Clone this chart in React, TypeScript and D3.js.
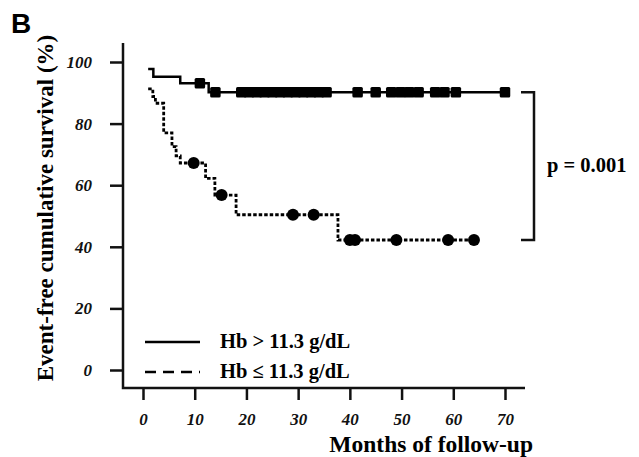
import React, { useEffect, useRef } from 'react';
import * as d3 from 'd3';

// Hb > 11.3 g/dL : step curve (months, survival %) and censored times
const highTime = [1, 2, 7.2, 12.7, 70];
const highSurv = [97.7, 95.2, 93.1, 90.2, 90.2];
const highCensor = [11, 14, 19, 20.5, 22, 23.5, 25, 26.5, 28, 29.5, 31, 32.5, 34, 35.5,
  41.5, 45, 48, 49.8, 51.5, 53.3, 56.5, 58.3, 60.5, 70];

// Hb <= 11.3 g/dL
const lowTime = [1, 1.9, 2.4, 4.0, 5.6, 6.4, 7.2, 12.1, 13.9, 18.0, 37.7, 64];
const lowSurv = [91.3, 88.8, 86.6, 77.0, 72.5, 69.5, 67.2, 62.2, 56.8, 50.4, 42.2, 42.2];
const lowCensor = [9.8, 15.2, 29, 33, 40, 41, 49, 59, 64];

const xTicks = [0, 10, 20, 30, 40, 50, 60, 70];
const yTicks = [0, 20, 40, 60, 80, 100];

const serif = '"Liberation Serif", "Times New Roman", serif';

function survAt(times: number[], surv: number[], t: number) {
  const i = d3.bisectRight(times, t) - 1;
  return surv[Math.max(0, i)];
}

export default function App() {
  const svgRef = useRef<SVGSVGElement>(null);

  useEffect(() => {
    const w = 639;
    const h = 457;
    const x = d3.scaleLinear().domain([0, 70]).range([143, 505]);
    const y = d3.scaleLinear().domain([0, 100]).range([370, 62]);

    const svg = d3.select(svgRef.current).attr('width', w).attr('height', h);
    svg.selectAll('*').remove();

    svg.append('rect').attr('width', w).attr('height', h).attr('fill', '#fff');

    // panel letter
    svg.append('text')
      .attr('x', 11).attr('y', 33)
      .text('B')
      .style('font-family', '"Liberation Sans", Arial, sans-serif')
      .style('font-weight', 'bold')
      .style('font-size', '28px');

    // y axis
    const yAxis = svg.append('g')
      .attr('transform', 'translate(123,0)')
      .call(d3.axisLeft(y).tickValues(yTicks).tickSize(13).tickPadding(18));
    yAxis.select('.domain').remove();
    yAxis.selectAll('line').attr('stroke', '#111').attr('stroke-width', 2.5);
    yAxis.selectAll('text')
      .style('font-family', serif)
      .style('font-style', 'italic')
      .style('font-weight', 'bold')
      .style('font-size', '17px')
      .attr('fill', '#111');

    // x axis
    const xAxis = svg.append('g')
      .attr('transform', 'translate(0,388)')
      .call(d3.axisBottom(x).tickValues(xTicks).tickSize(12).tickPadding(13));
    xAxis.select('.domain').remove();
    xAxis.selectAll('line').attr('stroke', '#111').attr('stroke-width', 2.5);
    xAxis.selectAll('text')
      .style('font-family', serif)
      .style('font-style', 'italic')
      .style('font-weight', 'bold')
      .style('font-size', '17px')
      .attr('fill', '#111');

    // axis lines
    svg.append('path')
      .attr('d', 'M123,43V388H525')
      .attr('fill', 'none')
      .attr('stroke', '#111')
      .attr('stroke-width', 2.5);

    // axis titles
    svg.append('text')
      .attr('transform', 'translate(53,208) rotate(-90)')
      .attr('text-anchor', 'middle')
      .text('Event-free cumulative survival (%)')
      .style('font-family', serif)
      .style('font-weight', 'bold')
      .style('font-size', '23px');

    svg.append('text')
      .attr('x', 533).attr('y', 452)
      .attr('text-anchor', 'end')
      .text('Months of follow-up')
      .style('font-family', serif)
      .style('font-weight', 'bold')
      .style('font-size', '23.5px');

    const line = d3.line<[number, number]>()
      .x(d => x(d[0]))
      .y(d => y(d[1]))
      .curve(d3.curveStepAfter);

    const highPts = highTime.map((t, i) => [t, highSurv[i]] as [number, number]);
    const lowPts = lowTime.map((t, i) => [t, lowSurv[i]] as [number, number]);

    svg.append('path')
      .attr('d', line(highPts))
      .attr('fill', 'none')
      .attr('stroke', '#000')
      .attr('stroke-width', 2.5);

    svg.append('path')
      .attr('d', line(lowPts))
      .attr('fill', 'none')
      .attr('stroke', '#000')
      .attr('stroke-width', 2.8)
      .attr('stroke-dasharray', '3.5 2');

    const sq = 10.5;
    svg.selectAll(null)
      .data(highCensor)
      .enter()
      .append('rect')
      .attr('x', d => x(d) - sq / 2)
      .attr('y', d => y(survAt(highTime, highSurv, d)) - sq / 2)
      .attr('width', sq)
      .attr('height', sq)
      .attr('rx', 1.5)
      .attr('fill', '#000');

    svg.selectAll(null)
      .data(lowCensor)
      .enter()
      .append('circle')
      .attr('cx', d => x(d))
      .attr('cy', d => y(survAt(lowTime, lowSurv, d)))
      .attr('r', 6)
      .attr('fill', '#000');

    // p-value bracket
    const yTop = y(survAt(highTime, highSurv, 70));
    const yBot = y(survAt(lowTime, lowSurv, 64));
    svg.append('path')
      .attr('d', `M521,${yTop}H534V${yBot}H521`)
      .attr('fill', 'none')
      .attr('stroke', '#111')
      .attr('stroke-width', 2.5);
    svg.append('text')
      .attr('x', 547).attr('y', 172)
      .text('p = 0.001')
      .style('font-family', serif)
      .style('font-weight', 'bold')
      .style('font-size', '20.5px');

    // legend
    const legend = svg.append('g');
    const items = [
      { label: 'Hb > 11.3 g/dL', dash: null, y: 342 },
      { label: 'Hb \u2264 11.3 g/dL', dash: '11 7', y: 372 },
    ];
    items.forEach(it => {
      legend.append('line')
        .attr('x1', 145).attr('x2', 200)
        .attr('y1', it.y).attr('y2', it.y)
        .attr('stroke', '#000')
        .attr('stroke-width', 2.5)
        .attr('stroke-dasharray', it.dash);
      legend.append('text')
        .attr('x', 220).attr('y', it.y + 6)
        .text(it.label)
        .style('font-family', serif)
        .style('font-weight', 'bold')
        .style('font-size', '20.5px');
    });
  }, []);

  return (
    <svg ref={svgRef} style={{ position: 'absolute', left: 0, top: 0, display: 'block' }}></svg>
  );
}
